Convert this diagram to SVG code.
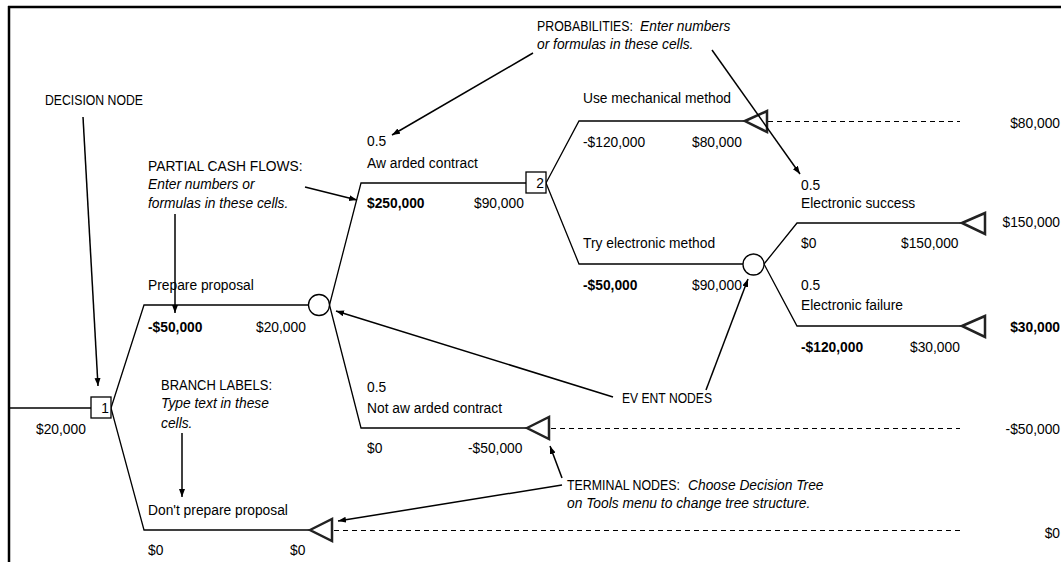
<svg xmlns="http://www.w3.org/2000/svg" width="1061" height="562" viewBox="0 0 1061 562">
<defs>
<marker id="ah" markerUnits="userSpaceOnUse" markerWidth="9" markerHeight="7" refX="8" refY="3" orient="auto">
<path d="M0,0 L8,3 L0,6 z" fill="#000"/>
</marker>
<style>
text{font-family:"Liberation Sans",Arial,sans-serif;font-size:13.8px;fill:#000}
.i{font-style:italic}
.b{font-weight:bold}
.e{text-anchor:end}
.tree{fill:none;stroke:#000;stroke-width:1.3}
.dash{fill:none;stroke:#000;stroke-width:1.2;stroke-dasharray:5 4}
.term{fill:#fff;stroke:#222;stroke-width:2.5;stroke-linejoin:miter}
.dec{fill:#fff;stroke:#000;stroke-width:1.3}
.ev{fill:#fff;stroke:#000;stroke-width:1.3}
.ann{fill:none;stroke:#000;stroke-width:1.5;marker-end:url(#ah)}
.frame{stroke:#000;stroke-width:2.5}
</style>
</defs>
<rect width="1061" height="562" fill="#fff"/>
<g id="frame">
<line class="frame" x1="8" y1="7" x2="1061" y2="7"/>
<line class="frame" x1="9" y1="6" x2="9" y2="562"/>
</g>
<g id="branches">
<path class="tree" d="M9,408 H91"/>
<path class="tree" d="M111,408 L144,305 H308.5"/>
<path class="tree" d="M111,408 L144,530 H310"/>
<path class="tree" d="M329.5,305 L361,183 H526"/>
<path class="tree" d="M329.5,305 L361,428 H527"/>
<path class="tree" d="M546,183 L579,121 H745"/>
<path class="tree" d="M546,183 L579,264 H743"/>
<path class="tree" d="M764,264 L797,223 H962"/>
<path class="tree" d="M764,264 L797,326 H962"/>
<path class="dash" d="M334,530.5 H960"/>
<path class="dash" d="M551,428.5 H960"/>
<path class="dash" d="M768,121.5 H960"/>
</g>
<g id="decision-1"><rect class="dec" x="91" y="397" width="20" height="21"/><text class="e" x="109" y="413">1</text></g>
<g id="decision-2"><rect class="dec" x="526" y="172" width="20" height="21"/><text class="e" x="544" y="188">2</text></g>
<g id="event-1"><circle class="ev" cx="319" cy="305" r="10.5"/></g>
<g id="event-2"><circle class="ev" cx="753.5" cy="264.5" r="10.5"/></g>
<g id="terminal-1"><polygon class="term" points="310,530 332,519 332,541"/></g>
<g id="terminal-2"><polygon class="term" points="527,428 549,417 549,439"/></g>
<g id="terminal-3"><polygon class="term" points="745,121 767,111 767,132"/></g>
<g id="terminal-4"><polygon class="term" points="962,223 985,213 985,234"/></g>
<g id="terminal-5"><polygon class="term" points="962,326 985,316 985,337"/></g>
<g id="labels">
<text x="367" y="146">0.5</text>
<text x="367" y="168">Aw arded contract</text>
<text class="b" x="367" y="208">$250,000</text>
<text x="474" y="208">$90,000</text>
<text x="583" y="103">Use mechanical method</text>
<text x="583" y="147">-$120,000</text>
<text x="692" y="147">$80,000</text>
<text class="e" x="1060" y="128">$80,000</text>
<text x="801" y="190">0.5</text>
<text x="801" y="208">Electronic success</text>
<text x="583" y="248">Try electronic method</text>
<text x="801" y="248">$0</text>
<text x="901" y="248">$150,000</text>
<text class="e" x="1060" y="227">$150,000</text>
<text x="148" y="290">Prepare proposal</text>
<text class="b" x="583" y="290">-$50,000</text>
<text x="692" y="290">$90,000</text>
<text x="801" y="290">0.5</text>
<text x="801" y="310">Electronic failure</text>
<text class="b" x="148" y="332">-$50,000</text>
<text x="256" y="332">$20,000</text>
<text class="b e" x="1060" y="332">$30,000</text>
<text class="b" x="801" y="352">-$120,000</text>
<text x="910" y="352">$30,000</text>
<text x="367" y="392">0.5</text>
<text x="367" y="413">Not aw arded contract</text>
<text x="36" y="434">$20,000</text>
<text class="e" x="1060" y="434">-$50,000</text>
<text x="367" y="453">$0</text>
<text x="468" y="453">-$50,000</text>
<text x="148" y="515">Don't prepare proposal</text>
<text class="e" x="1060" y="538">$0</text>
<text x="148" y="555">$0</text>
<text x="290" y="555">$0</text>
</g>
<g id="annotations">
<text x="45" y="105" textLength="98" lengthAdjust="spacingAndGlyphs">DECISION NODE</text>
<text x="148" y="171">PARTIAL CASH FLOWS:</text>
<text class="i" x="148" y="189">Enter numbers or</text>
<text class="i" x="148" y="208">formulas in these cells.</text>
<text x="537" y="31" textLength="96" lengthAdjust="spacingAndGlyphs">PROBABILITIES:</text>
<text class="i" x="640" y="31">Enter numbers</text>
<text class="i" x="537" y="49">or formulas in these cells.</text>
<text x="161" y="390" textLength="111" lengthAdjust="spacingAndGlyphs">BRANCH LABELS:</text>
<text class="i" x="161" y="408">Type text in these</text>
<text class="i" x="161" y="428">cells.</text>
<text x="622" y="403" textLength="90" lengthAdjust="spacingAndGlyphs">EV ENT NODES</text>
<text x="567" y="490" textLength="113" lengthAdjust="spacingAndGlyphs">TERMINAL NODES:</text>
<text class="i" x="688" y="490">Choose Decision Tree</text>
<text class="i" x="567" y="508">on Tools menu to change tree structure.</text>
</g>
<g id="connectors">
<line class="ann" x1="83" y1="117" x2="98" y2="386"/>
<line class="ann" x1="305" y1="187" x2="357" y2="200"/>
<line class="ann" x1="175" y1="214" x2="175" y2="313"/>
<line class="ann" x1="533" y1="53" x2="392" y2="135"/>
<line class="ann" x1="712" y1="50" x2="800" y2="174"/>
<line class="ann" x1="613" y1="397" x2="336" y2="311"/>
<line class="ann" x1="706" y1="390" x2="748" y2="279"/>
<line class="ann" x1="562" y1="485" x2="338" y2="521"/>
<line class="ann" x1="562" y1="478" x2="550" y2="446"/>
<line class="ann" x1="182" y1="433" x2="182" y2="497"/>
</g>
</svg>
